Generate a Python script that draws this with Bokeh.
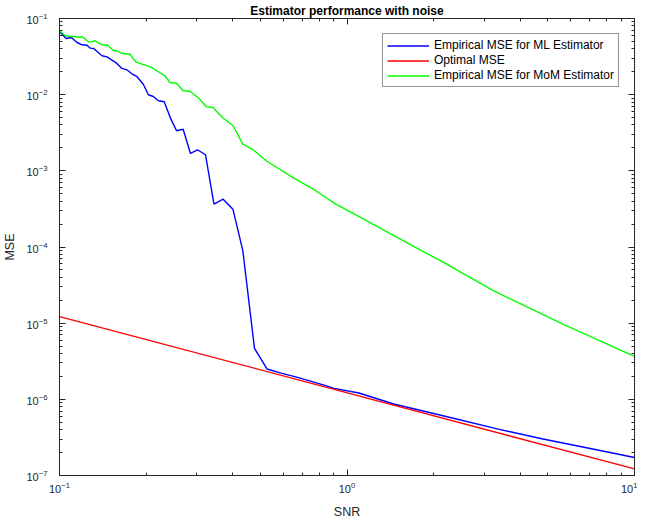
from bokeh.plotting import figure
from bokeh.models import FixedTicker, LogAxis, Legend, LegendItem, Range1d, CustomJSTickFormatter
from bokeh.embed import file_html
from bokeh.resources import INLINE

# ---- data ----
snr_ml = [0.1, 0.1055, 0.1100, 0.1151, 0.1198, 0.1247, 0.1280, 0.1315, 0.1405, 0.1463,
          0.1522, 0.1584, 0.1648, 0.1715, 0.1785, 0.1857, 0.1957, 0.2037, 0.2120, 0.2207,
          0.2313, 0.2441, 0.2554, 0.2692, 0.2855, 0.3020, 0.3219, 0.3446, 0.3709, 0.4010,
          0.4342, 0.4767, 0.5275, 0.5897, 0.6730, 0.8325, 0.9016, 1.100, 1.454, 2.345,
          3.357, 4.805, 7.156, 10.0]
mse_ml = [0.0675, 0.0546, 0.0563, 0.0484, 0.0452, 0.0446, 0.0408, 0.0404, 0.0324, 0.0314,
          0.0284, 0.0257, 0.0221, 0.0212, 0.0188, 0.01733, 0.01373, 0.00997, 0.00947, 0.00832,
          0.00807, 0.00477, 0.00336, 0.00352, 0.00169, 0.00189, 0.001627, 0.000366, 0.000425, 0.000314,
          8.94e-5, 4.67e-6, 2.50e-6, 2.21e-6, 1.945e-6, 1.54e-6, 1.395e-6, 1.21e-6, 8.68e-7, 5.64e-7,
          4.07e-7, 3.01e-7, 2.23e-7, 1.72e-7]

snr_opt = [0.1, 10.0]
mse_opt = [1.22e-5, 1.22e-7]

snr_mom = [0.1, 0.1049, 0.1092, 0.1136, 0.1166, 0.1198, 0.1230, 0.1263, 0.1297, 0.1332,
           0.1368, 0.1423, 0.1463, 0.1501, 0.1541, 0.1584, 0.1648, 0.1760, 0.1807, 0.1857,
           0.1984, 0.2093, 0.2207, 0.2326, 0.2421, 0.2554, 0.2692, 0.2840, 0.3034, 0.3244,
           0.3419, 0.3703, 0.4010, 0.4342, 0.4728, 0.5233, 0.6555, 0.7689, 0.9139, 1.115,
           1.454, 2.166, 3.227, 5.636, 10.0]
mse_mom = [0.0690, 0.0593, 0.0581, 0.0581, 0.0564, 0.0576, 0.0535, 0.0494, 0.0494, 0.0510,
           0.0475, 0.0446, 0.0452, 0.0416, 0.0377, 0.0377, 0.0347, 0.0340, 0.0292, 0.0265,
           0.0244, 0.0228, 0.0200, 0.0177, 0.01445, 0.01415, 0.01125, 0.0111, 0.00919, 0.00694,
           0.00679, 0.00494, 0.00394, 0.00224, 0.00188, 0.001357, 0.000795, 0.000565, 0.000366, 0.0002446,
           0.0001407, 6.28e-5, 2.67e-5, 9.72e-6, 3.67e-6]

x_major = [0.1, 1.0, 10.0]
y_major = [1e-7, 1e-6, 1e-5, 1e-4, 1e-3, 1e-2, 1e-1]
x_minor = [k * 10.0 ** e for e in (-1, 0) for k in range(2, 10)]
y_minor = [k * 10.0 ** e for e in range(-7, -1) for k in range(2, 10)]

labels = ["Empirical MSE for ML Estimator", "Optimal MSE", "Empirical MSE for MoM Estimator"]

FONT = "Liberation Sans"
AX = "#262626"

p = figure(width=637, height=521, x_axis_type="log", y_axis_type="log",
           x_range=Range1d(0.1, 10), y_range=Range1d(1e-7, 1e-1),
           output_backend="svg", toolbar_location=None,
           min_border_left=56, min_border_right=3, min_border_top=18, min_border_bottom=46)
p.title.text = "Estimator performance with noise"
p.title.text_font = FONT
p.title.text_font_size = "12px"
p.title.text_font_style = "bold"
p.title.text_color = "#000000"
p.title.align = "center"
p.title.offset = 0
p.title.standoff = 2
p.grid.visible = False
p.outline_line_color = None
p.background_fill_color = "white"

xt = FixedTicker(ticks=x_major, minor_ticks=x_minor)
yt = FixedTicker(ticks=y_major, minor_ticks=y_minor)

def style(ax, ticker):
    ax.ticker = ticker
    ax.axis_line_color = AX
    ax.axis_line_width = 1
    ax.major_tick_in = 6
    ax.major_tick_out = 0
    ax.minor_tick_in = 3
    ax.minor_tick_out = 0
    ax.major_tick_line_color = AX
    ax.minor_tick_line_color = AX
    ax.major_label_text_font = FONT
    ax.major_label_text_color = AX
    ax.major_label_text_font_size = "11px"

style(p.xaxis[0], xt)
style(p.yaxis[0], yt)
p.xaxis[0].axis_label = "SNR"
p.yaxis[0].axis_label = "MSE"
for ax in (p.xaxis[0], p.yaxis[0]):
    ax.axis_label_text_font = FONT
    ax.axis_label_text_font_size = "12.5px"
    ax.axis_label_text_font_style = "normal"
    ax.axis_label_text_color = AX
p.xaxis[0].major_label_standoff = 6
p.xaxis[0].axis_label_standoff = 9
p.yaxis[0].major_label_standoff = 12
p.yaxis[0].axis_label_standoff = 6

blank = CustomJSTickFormatter(code="return '';")
top = LogAxis(formatter=blank)
right = LogAxis(formatter=blank)
style(top, xt)
style(right, yt)
for ax in (top, right):
    ax.major_label_standoff = 0
    ax.major_label_text_font_size = "1px"
p.add_layout(top, "above")
p.add_layout(right, "right")

r1 = p.line(snr_ml, mse_ml, line_color="#0000FF", line_width=1.4)
r2 = p.line(snr_opt, mse_opt, line_color="#FF0000", line_width=1.4)
r3 = p.line(snr_mom, mse_mom, line_color="#00FF00", line_width=1.4)

legend = Legend(items=[LegendItem(label=labels[0], renderers=[r1]),
                       LegendItem(label=labels[1], renderers=[r2]),
                       LegendItem(label=labels[2], renderers=[r3])],
                location="top_right")
legend.label_text_font = FONT
legend.label_text_font_size = "12px"
legend.label_text_color = "#000000"
legend.label_height = 13
legend.glyph_height = 13
legend.glyph_width = 42
legend.label_standoff = 5
legend.spacing = 1
legend.padding = 4
legend.margin = 15
legend.border_line_color = AX
legend.border_line_width = 1
legend.background_fill_color = "white"
legend.background_fill_alpha = 1
p.add_layout(legend)

open("out.html", "w").write(file_html(p, INLINE))
